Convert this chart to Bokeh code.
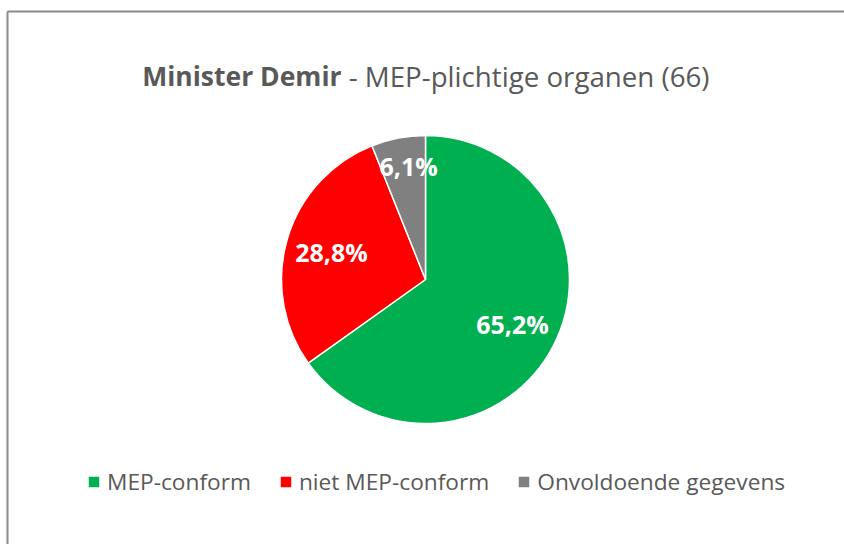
import math
from bokeh.plotting import figure
from bokeh.models import Range1d, ColumnDataSource, Legend, LegendItem
from bokeh.core.properties import value
from bokeh.embed import file_html
from bokeh.resources import INLINE

# ---- data ----
title_bold = "Minister Demir"
title_rest = "\u00a0-\u00a0MEP-plichtige organen (66)"
categories = ["MEP-conform", "niet MEP-conform", "Onvoldoende gegevens"]
counts = [43, 19, 4]          # 66 organen in totaal
colors = ["#00B050", "#FF0000", "#808080"]

W, H = 844, 544
cx, cy, R = 425, H - 279, 144

total = sum(counts)
shares = [c / total for c in counts]
starts, ends, lx, ly, labels = [], [], [], [], []
a = math.pi / 2
for s in shares:
    sweep = s * 2 * math.pi
    starts.append(a - sweep)
    ends.append(a)
    mid = a - sweep / 2
    rf = 0.68 if s >= 0.1 else 0.80
    lx.append(cx + rf * R * math.cos(mid) + (0 if s >= 0.1 else 5))
    ly.append(cy + rf * R * math.sin(mid))
    labels.append(f"{s*100:.1f}%".replace(".", ","))
    a -= sweep

src = ColumnDataSource(dict(cat=categories, start=starts, end=ends, color=colors,
                            lx=lx, ly=ly, label=labels))

p = figure(width=W, height=H, output_backend="svg", toolbar_location=None,
           x_range=Range1d(0, W), y_range=Range1d(0, H), min_border=0)
p.axis.visible = False
p.grid.visible = False
p.outline_line_color = None
p.background_fill_color = "white"
p.border_fill_color = "white"

# chart border (top & left visible)
p.line(x=[7, W], y=[H - 11, H - 11], line_color="#8a8a8a", line_width=2)
p.line(x=[7, 7], y=[H - 11, 0], line_color="#8a8a8a", line_width=2)

renderers = []
for i, cat in enumerate(categories):
    r = p.wedge(x=cx, y=cy, radius=R, start_angle=starts[i], end_angle=ends[i],
                fill_color=colors[i], line_color="white", line_width=1.5)
    renderers.append(r)

p.text(x="lx", y="ly", text="label", source=src, text_color="white",
       text_font=value("Open Sans"), text_font_style="bold", text_font_size="25px",
       text_align="center", text_baseline="middle")

# title
tx, ty = 341, H - 75
p.text(x=[tx], y=[ty], text=[title_bold], text_color="#595959",
       text_font=value("Open Sans"), text_font_style="bold", text_font_size="26.5px",
       text_align="right", text_baseline="middle")
p.text(x=[tx], y=[ty], text=[title_rest], text_color="#595959",
       text_font=value("Open Sans"), text_font_size="27.7px",
       text_align="left", text_baseline="middle")

legend = Legend(items=[LegendItem(label=c, renderers=[r]) for c, r in zip(categories, renderers)],
                orientation="horizontal", location=(86, 47),
                glyph_width=15, glyph_height=15, label_standoff=6, spacing=27,
                label_text_font="Open Sans", label_text_font_size="22.7px",
                label_text_color="#595959", padding=0, margin=0,
                border_line_alpha=0, background_fill_alpha=0)
p.add_layout(legend, "center")

open("out.html", "w").write(file_html(p, INLINE))
